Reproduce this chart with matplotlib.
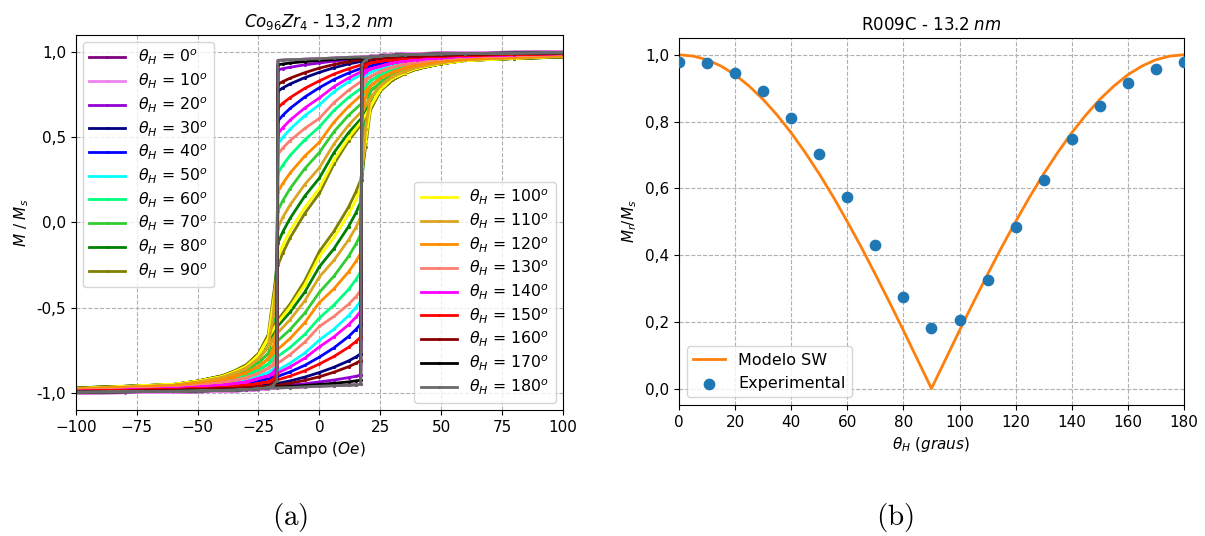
import matplotlib
matplotlib.use("Agg")
import matplotlib.pyplot as plt
from matplotlib.ticker import FuncFormatter, MultipleLocator

# angulo do campo aplicado (graus) e cor de cada laco
angulos = [0, 10, 20, 30, 40, 50, 60, 70, 80, 90, 100, 110, 120, 130, 140, 150, 160, 170, 180]
cores = ['purple', 'violet', 'darkviolet', 'navy', 'blue', 'cyan', 'springgreen',
         'limegreen', 'green', 'olive', 'yellow', 'goldenrod', 'darkorange', 'salmon',
         'magenta', 'red', 'darkred', 'black', 'dimgray']

# ramo descendente de cada laco (Oe); o ramo ascendente e o simetrico
campo_sup = [100, 80, 60, 50, 40, 35, 30, 25, 21]
campo_laco = [17.5, 12, 6, 0, -6, -12, -15, -17]
campo_salto = [-17.5, -19]

m_sup = [
    [1.0, 0.998, 0.995, 0.993, 0.99, 0.988, 0.985, 0.98, 0.975],
    [1.0, 0.998, 0.995, 0.993, 0.99, 0.988, 0.985, 0.98, 0.975],
    [0.995, 0.993, 0.99, 0.985, 0.98, 0.978, 0.975, 0.97, 0.965],
    [0.995, 0.99, 0.985, 0.98, 0.975, 0.97, 0.965, 0.96, 0.95],
    [0.99, 0.985, 0.98, 0.973, 0.965, 0.956, 0.945, 0.93, 0.915],
    [0.985, 0.978, 0.97, 0.962, 0.95, 0.94, 0.925, 0.905, 0.88],
    [0.98, 0.973, 0.965, 0.952, 0.935, 0.918, 0.895, 0.865, 0.83],
    [0.975, 0.966, 0.955, 0.94, 0.915, 0.893, 0.865, 0.82, 0.77],
    [0.97, 0.961, 0.95, 0.93, 0.90, 0.875, 0.84, 0.78, 0.69],
    [0.97, 0.961, 0.95, 0.93, 0.90, 0.872, 0.835, 0.77, 0.66],
    [0.975, 0.963, 0.95, 0.932, 0.905, 0.878, 0.845, 0.78, 0.68],
    [0.975, 0.966, 0.955, 0.937, 0.91, 0.885, 0.855, 0.80, 0.73],
    [0.98, 0.97, 0.96, 0.946, 0.925, 0.905, 0.88, 0.845, 0.80],
    [0.985, 0.978, 0.97, 0.958, 0.94, 0.927, 0.91, 0.885, 0.855],
    [0.99, 0.983, 0.975, 0.966, 0.955, 0.946, 0.935, 0.915, 0.90],
    [0.99, 0.985, 0.98, 0.975, 0.97, 0.963, 0.955, 0.945, 0.935],
    [0.995, 0.99, 0.985, 0.98, 0.975, 0.973, 0.97, 0.965, 0.96],
    [0.995, 0.993, 0.99, 0.988, 0.985, 0.983, 0.98, 0.975, 0.97],
    [0.995, 0.993, 0.99, 0.988, 0.985, 0.983, 0.98, 0.975, 0.97],
]

m_laco = [
    [0.97, 0.968, 0.964, 0.96, 0.957, 0.954, 0.952, 0.95],
    [0.97, 0.968, 0.964, 0.96, 0.957, 0.954, 0.952, 0.95],
    [0.96, 0.954, 0.946, 0.935, 0.924, 0.91, 0.902, 0.895],
    [0.945, 0.929, 0.907, 0.88, 0.849, 0.812, 0.789, 0.77],
    [0.905, 0.876, 0.838, 0.79, 0.735, 0.669, 0.628, 0.595],
    [0.87, 0.825, 0.766, 0.69, 0.626, 0.547, 0.499, 0.46],
    [0.79, 0.733, 0.657, 0.56, 0.484, 0.393, 0.336, 0.29],
    [0.70, 0.628, 0.532, 0.41, 0.315, 0.199, 0.128, 0.07],
    [0.614, 0.526, 0.409, 0.26, 0.154, 0.024, -0.055, -0.12],
    [0.58, 0.478, 0.342, 0.17, 0.052, -0.09, -0.179, -0.25],
    [0.595, 0.496, 0.366, 0.20, 0.088, -0.048, -0.132, -0.2],
    [0.653, 0.57, 0.46, 0.32, 0.222, 0.103, 0.03, -0.03],
    [0.75, 0.68, 0.588, 0.47, 0.389, 0.29, 0.229, 0.18],
    [0.83, 0.775, 0.702, 0.61, 0.551, 0.48, 0.436, 0.40],
    [0.886, 0.847, 0.796, 0.73, 0.671, 0.60, 0.556, 0.52],
    [0.925, 0.901, 0.87, 0.83, 0.786, 0.732, 0.699, 0.672],
    [0.955, 0.943, 0.926, 0.905, 0.878, 0.846, 0.826, 0.81],
    [0.965, 0.961, 0.956, 0.95, 0.943, 0.935, 0.929, 0.925],
    [0.97, 0.968, 0.964, 0.96, 0.957, 0.954, 0.952, 0.95],
]

m_salto = [
    [-0.94, -0.96], [-0.945, -0.96], [-0.93, -0.95], [-0.91, -0.935],
    [-0.87, -0.90], [-0.82, -0.86], [-0.72, -0.79], [-0.45, -0.65],
    [-0.25, -0.48], [-0.30, -0.44], [-0.33, -0.48], [-0.30, -0.55],
    [-0.62, -0.74], [-0.78, -0.83], [-0.85, -0.88], [-0.89, -0.92],
    [-0.92, -0.945], [-0.935, -0.955], [-0.93, -0.955],
]

# remanencia medida x modelo de Stoner-Wohlfarth
theta_exp = [0, 10, 20, 30, 40, 50, 60, 70, 80, 90, 100, 110, 120, 130, 140, 150, 160, 170, 180]
mr_exp = [0.978, 0.975, 0.945, 0.89, 0.809, 0.703, 0.573, 0.431, 0.273, 0.181,
          0.205, 0.325, 0.484, 0.626, 0.749, 0.846, 0.915, 0.958, 0.978]
theta_sw = list(range(0, 181, 5))
mr_sw = [1.0, 0.996, 0.985, 0.966, 0.940, 0.906, 0.866, 0.819, 0.766, 0.707,
         0.643, 0.574, 0.5, 0.423, 0.342, 0.259, 0.174, 0.087, 0.0,
         0.087, 0.174, 0.259, 0.342, 0.423, 0.5, 0.574, 0.643, 0.707, 0.766,
         0.819, 0.866, 0.906, 0.940, 0.966, 0.985, 0.996, 1.0]

virgula = FuncFormatter(lambda v, p: ('%.1f' % v).replace('.', ','))

fig = plt.figure(figsize=(12.05, 5.36), dpi=100)
ax1 = fig.add_axes([0.063, 0.235, 0.404, 0.700])
ax2 = fig.add_axes([0.5635, 0.244, 0.419, 0.685])

# laços de histerese
linhas = []
for i, ang in enumerate(angulos):
    h_desc = campo_sup + campo_laco + campo_salto + [-h for h in reversed(campo_sup)]
    m_desc = m_sup[i] + m_laco[i] + m_salto[i] + [-m for m in reversed(m_sup[i])]
    h = h_desc + [-x for x in h_desc]
    m = m_desc + [-x for x in m_desc]
    ln, = ax1.plot(h, m, color=cores[i], lw=2, marker='.', ms=2.5,
                   label=r'$\theta_H$ = %d$^o$' % ang)
    linhas.append(ln)

ax1.set_xlim(-100, 100)
ax1.set_ylim(-1.1, 1.1)
ax1.yaxis.set_major_locator(MultipleLocator(0.5))
ax1.yaxis.set_major_formatter(virgula)
ax1.grid(True, ls='--', color='#b0b0b0', lw=0.8)
ax1.tick_params(labelsize=11)
ax1.set_title(r'$Co_{96}Zr_4$ - 13,2 $nm$', fontsize=12)
ax1.set_xlabel(r'Campo ($Oe$)', fontsize=11)
ax1.set_ylabel(r'$M$ / $M_s$', fontsize=11)
estilo_leg = dict(fontsize=11.3, labelspacing=0.28, handlelength=2.3, borderaxespad=0.45)
leg1 = ax1.legend(handles=linhas[:10], loc='upper left', **estilo_leg)
ax1.add_artist(leg1)
ax1.legend(handles=linhas[10:], loc='lower right', **estilo_leg)

# remanencia em funcao do angulo
ax2.plot(theta_sw, mr_sw, color='C1', lw=2, label='Modelo SW')
ax2.scatter(theta_exp, mr_exp, s=55, color='C0', zorder=3, label='Experimental')
ax2.set_xlim(0, 180)
ax2.set_ylim(-0.05, 1.05)
ax2.xaxis.set_major_locator(MultipleLocator(20))
ax2.yaxis.set_major_locator(MultipleLocator(0.2))
ax2.yaxis.set_major_formatter(virgula)
ax2.grid(True, ls='--', color='#b0b0b0', lw=0.8)
ax2.tick_params(labelsize=11)
ax2.set_title(r'R009C - 13.2 $nm$', fontsize=12)
ax2.set_xlabel(r'$\theta_H$ $(graus)$', fontsize=11)
ax2.set_ylabel(r'$M_r/M_s$', fontsize=11)
ax2.legend(loc='lower left', fontsize=11.5)

fig.text(0.241, 0.02, r'$\mathrm{(a)}$', math_fontfamily='cm', fontsize=21, ha='center')
fig.text(0.743, 0.02, r'$\mathrm{(b)}$', math_fontfamily='cm', fontsize=21, ha='center')

fig.savefig('out.png', dpi=100)
